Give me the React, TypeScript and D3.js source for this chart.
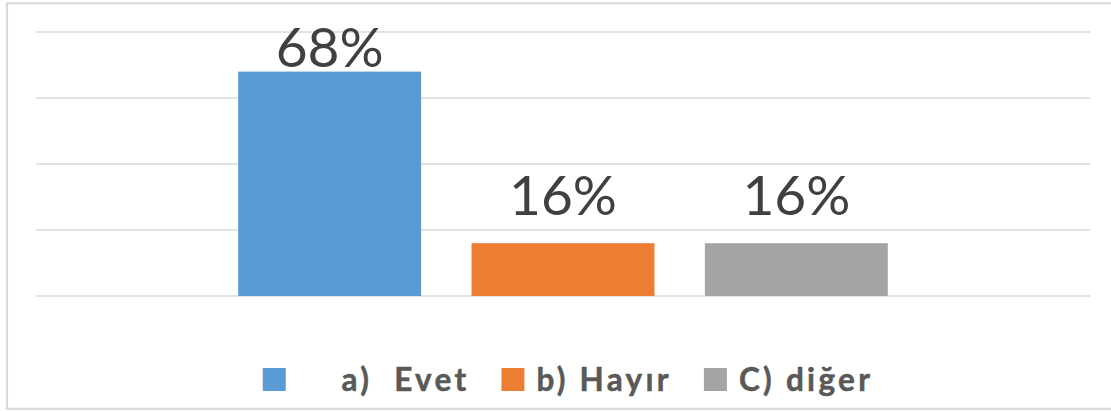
import { useEffect, useRef } from 'react'
import * as d3 from 'd3'

// chart data
const categories = ['a)  Evet', 'b) Hayır', 'C) diğer']
const legendLabels = ['    a)  Evet', 'b) Hayır', 'C) diğer']
const values = [0.68, 0.16, 0.16]
const colors = ['#5B9BD5', '#ED7D31', '#A5A5A5']
const yTicks = [0, 0.2, 0.4, 0.6, 0.8]

export default function App() {
  const svgRef = useRef<SVGSVGElement | null>(null)

  useEffect(() => {
    if (!svgRef.current) return
    document.body.style.margin = '0'

    const width = 1111
    const height = 411

    const svg = d3.select(svgRef.current)
    svg.selectAll('*').remove()
    svg.attr('width', width).attr('height', height)

    // chart border (right edge runs off the picture)
    svg.append('rect')
      .attr('x', 7).attr('y', 3.3)
      .attr('width', width + 10).attr('height', 405.5)
      .attr('fill', '#fff')
      .attr('stroke', '#D9D9D9')
      .attr('stroke-width', 2.2)

    const plotL = 36
    const plotR = 1090

    const y = d3.scaleLinear().domain([0, 0.8]).range([296, 32])

    const x = d3.scaleBand<string>()
      .domain(categories)
      .range([213, 913])
      .paddingInner(0.216)
      .paddingOuter(0.108)

    // gridlines
    svg.append('g')
      .selectAll('line')
      .data(yTicks)
      .enter().append('line')
      .attr('x1', plotL).attr('x2', plotR)
      .attr('y1', d => y(d)).attr('y2', d => y(d))
      .attr('stroke', '#D9D9D9')
      .attr('stroke-width', 1.3)

    const data = categories.map((c, i) => ({ c, v: values[i], color: colors[i] }))

    // bars
    svg.append('g')
      .selectAll('rect')
      .data(data)
      .enter().append('rect')
      .attr('x', d => x(d.c)!)
      .attr('y', d => y(d.v))
      .attr('width', x.bandwidth())
      .attr('height', d => y(0) - y(d.v))
      .attr('fill', d => d.color)

    // value labels (top one gets pushed inside the chart area)
    svg.append('g')
      .selectAll('text')
      .data(data)
      .enter().append('text')
      .attr('x', d => x(d.c)! + x.bandwidth() / 2)
      .attr('y', d => Math.max(y(d.v) - 28, 67))
      .attr('text-anchor', 'middle')
      .attr('fill', '#404040')
      .attr('font-family', 'Lato, "Open Sans", sans-serif')
      .attr('font-size', 55)
      .text(d => `${Math.round(d.v * 100)}%`)

    // legend, laid out by measured text widths
    const legend = svg.append('g')
    const sq = 23
    const gapText = 12
    const gapItem = 32
    let cx = 0
    data.forEach((d, i) => {
      const item = legend.append('g').attr('transform', `translate(${cx},0)`)
      item.append('rect')
        .attr('x', 0).attr('y', 368)
        .attr('width', sq).attr('height', sq)
        .attr('fill', d.color)
      const t = item.append('text')
        .attr('x', sq + gapText).attr('y', 391)
        .attr('fill', '#595959')
        .attr('font-family', 'Lato, "Open Sans", sans-serif')
        .attr('font-weight', 'bold')
        .attr('font-size', 31.5)
        .attr('letter-spacing', 3.3)
        .attr('stroke', '#595959')
        .attr('stroke-width', 0.5)
        .style('white-space', 'pre')
        .text(legendLabels[i])
      const w = (t.node() as SVGTextElement).getComputedTextLength()
      cx += sq + gapText + w + gapItem
    })
    const total = cx - gapItem
    legend.attr('transform', `translate(${568 - total / 2},0)`)
  }, [])

  return <svg ref={svgRef} style={{ display: 'block' }} />
}
